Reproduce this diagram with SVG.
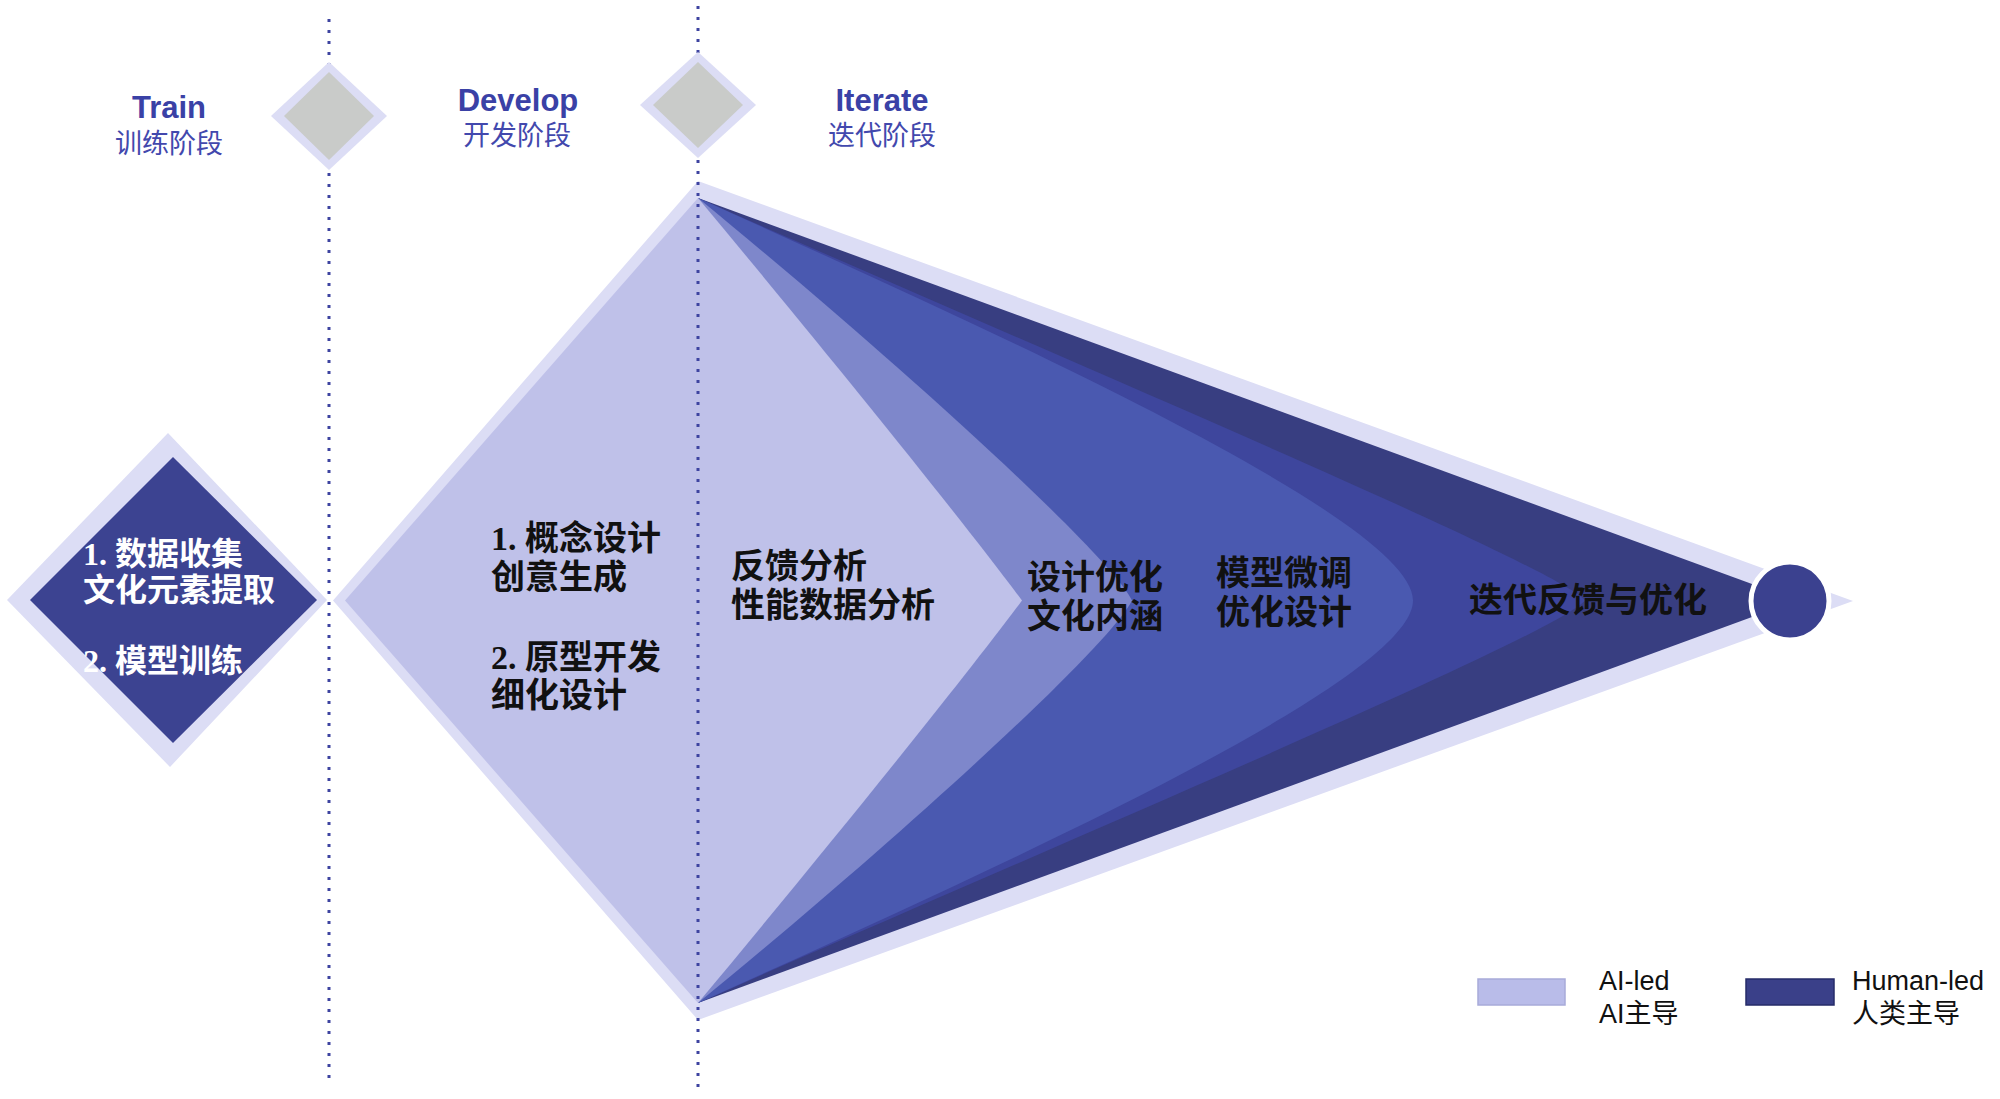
<svg xmlns="http://www.w3.org/2000/svg" width="2000" height="1099" viewBox="0 0 2000 1099">
<style>
.rim{fill:#dcddf5}
.gray{fill:#c9cbc9}
.head{font-family:"Liberation Sans",Arial,sans-serif;font-weight:bold;font-size:31px;fill:#3a41a6;text-anchor:middle}
.headcn{font-family:"Noto Sans CJK SC",sans-serif;font-size:27px;fill:#4248ad;text-anchor:middle}
.lbl{font-family:"Liberation Serif","Noto Sans CJK SC",serif;font-weight:bold;font-size:34px;fill:#111}
.wlbl{font-family:"Liberation Serif","Noto Sans CJK SC",serif;font-weight:bold;font-size:32px;fill:#fff}
.leg{font-family:"Liberation Sans","Noto Sans CJK SC",sans-serif;font-size:27px;fill:#111}
.dots{stroke:#3d43a0;stroke-width:3;stroke-dasharray:3 8;fill:none}
</style>
<rect width="2000" height="1099" fill="#ffffff"/>

<g id="train-stage">
<polygon class="rim" points="7,600 168,433 327,600 170,767"/>
<polygon points="30,600 173,457 317,600 173,743" fill="#3c4391"/>
<text class="wlbl" x="83" y="565">1. 数据收集</text>
<text class="wlbl" x="83" y="601">文化元素提取</text>
<text class="wlbl" x="83" y="672">2. 模型训练</text>
</g>

<g id="develop-iterate-shape">
<polygon class="rim" points="333,600.5 698,181 1853,601 698,1020"/>
<polygon points="698,198 1797,600.5 698,1003" fill="#383e81"/>
<path d="M698,198 C1060,358 1555,565 1585,600.5 C1555,636 1060,843 698,1003 Z" fill="#3e469d"/>
<path d="M698,198 C999,334 1413,520 1413,600.5 C1413,681 999,867 698,1003 Z" fill="#4a59b0"/>
<path d="M698,198 C883,349 1107,551 1132,600.5 C1107,650 883,852 698,1003 Z" fill="#7e87cb"/>
<path d="M345,600.5 L698,198 C833,360 962,520 1022,600.5 C962,681 833,841 698,1003 Z" fill="#bfc1e9"/>
</g>

<g id="phase-dividers">
<line class="dots" x1="329" y1="19" x2="329" y2="1078"/>
<line class="dots" x1="698" y1="6" x2="698" y2="1090"/>
</g>

<g id="gate-1">
<polygon class="rim" points="271,116 329,62 387,116 329,170"/>
<polygon class="gray" points="284,116 329,72 374,116 329,160"/>
</g>
<g id="gate-2">
<polygon class="rim" points="640,105 698,52 756,105 698,158"/>
<polygon class="gray" points="653,105 698,62 743,105 698,148"/>
</g>

<g id="phase-labels">
<text class="head" x="169" y="118">Train</text>
<text class="headcn" x="169" y="153">训练阶段</text>
<text class="head" x="518" y="111">Develop</text>
<text class="headcn" x="517" y="145">开发阶段</text>
<text class="head" x="882" y="111">Iterate</text>
<text class="headcn" x="882" y="145">迭代阶段</text>
</g>

<g id="develop-labels">
<text class="lbl" x="491" y="550">1. 概念设计</text>
<text class="lbl" x="491" y="589">创意生成</text>
<text class="lbl" x="491" y="669">2. 原型开发</text>
<text class="lbl" x="491" y="707">细化设计</text>
</g>

<g id="feedback-analysis">
<text class="lbl" x="731" y="578">反馈分析</text>
<text class="lbl" x="731" y="617">性能数据分析</text>
</g>
<g id="design-optimization">
<text class="lbl" x="1027" y="589">设计优化</text>
<text class="lbl" x="1027" y="628">文化内涵</text>
</g>
<g id="model-finetune">
<text class="lbl" x="1216" y="585">模型微调</text>
<text class="lbl" x="1216" y="624">优化设计</text>
</g>
<g id="iterate-feedback">
<text class="lbl" x="1469" y="612">迭代反馈与优化</text>
</g>

<g id="end-node">
<circle cx="1790" cy="601" r="39" fill="#3b418f" stroke="#ffffff" stroke-width="5"/>
</g>

<g id="legend">
<rect x="1478" y="979" width="87" height="26" fill="#b9bce9" stroke="#a8abd9" stroke-width="1.5"/>
<text class="leg" x="1599" y="990">AI-led</text>
<text class="leg" x="1599" y="1023">AI主导</text>
<rect x="1746" y="979" width="88" height="26" fill="#3a4089" stroke="#262b68" stroke-width="1.5"/>
<text class="leg" x="1852" y="990">Human-led</text>
<text class="leg" x="1852" y="1023">人类主导</text>
</g>
</svg>
